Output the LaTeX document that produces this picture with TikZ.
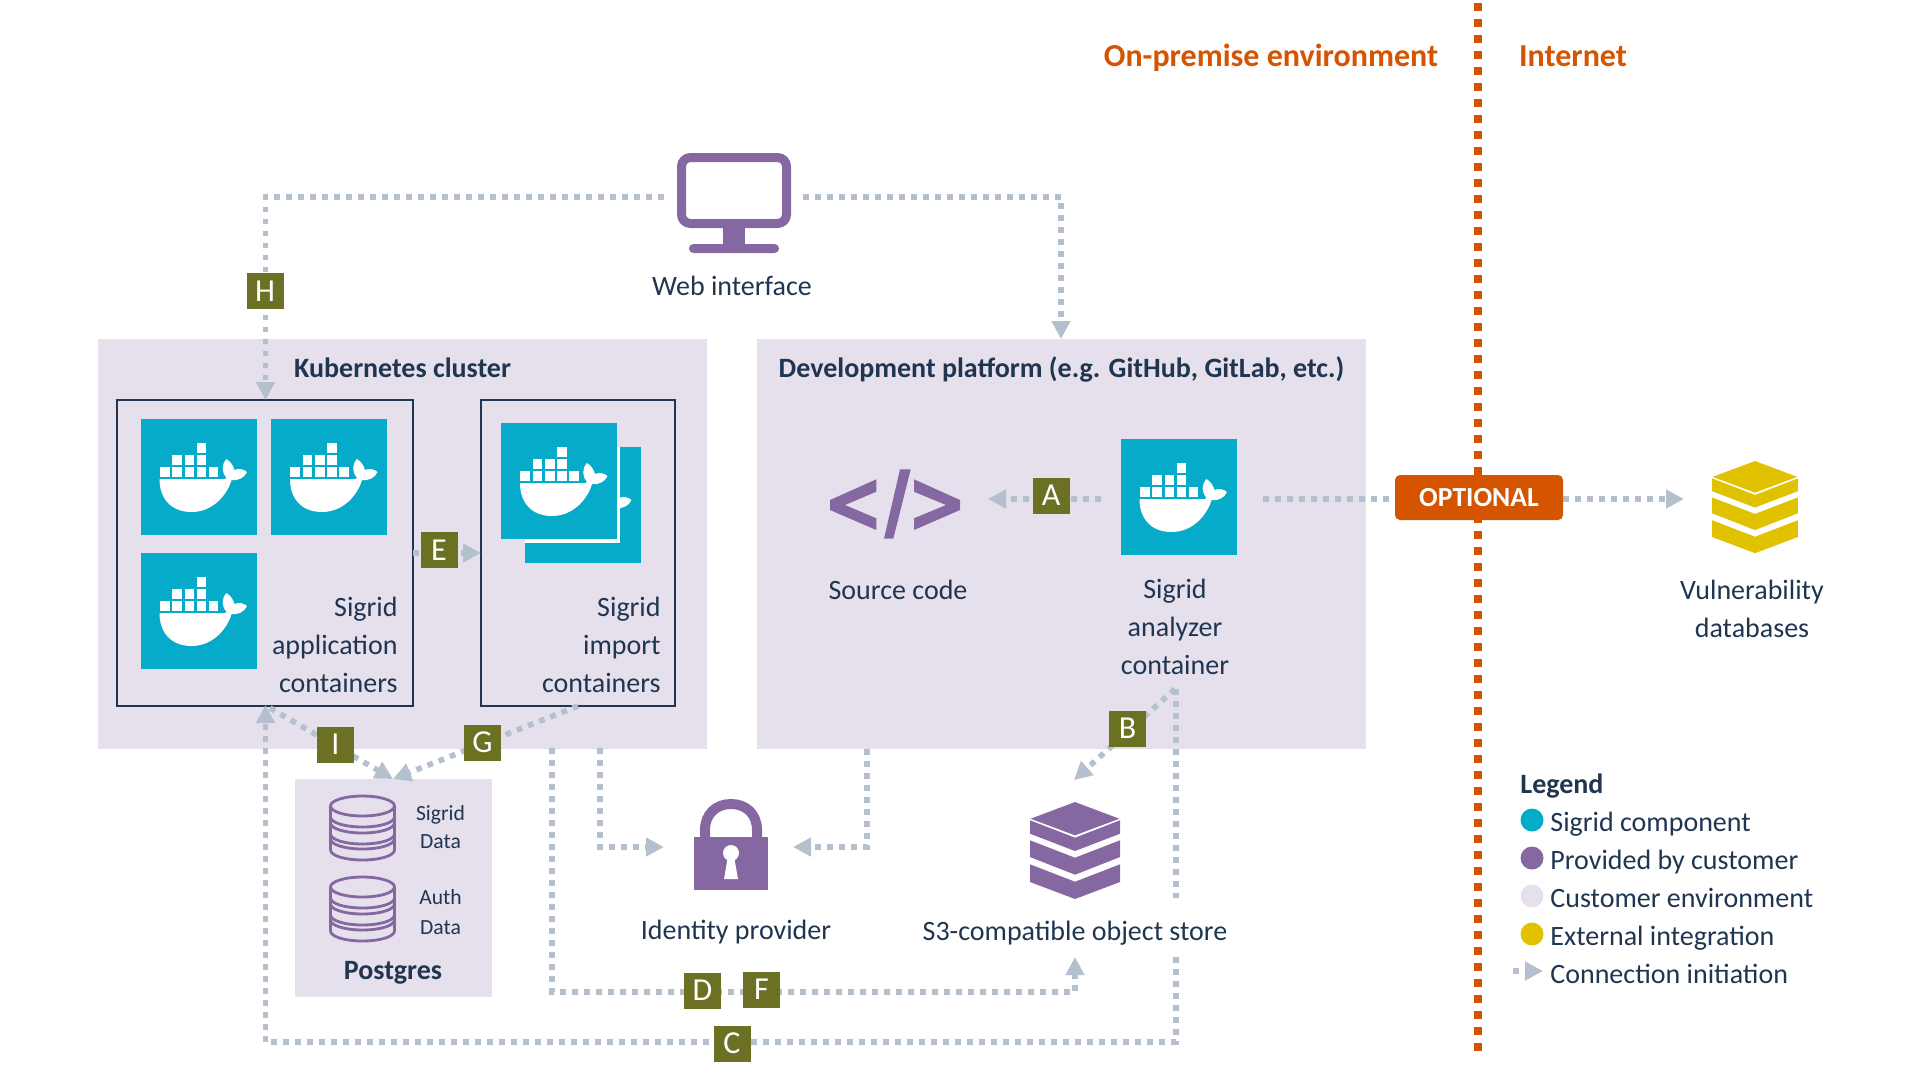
\documentclass[tikz,border=0pt]{standalone}
\usepackage{fontspec}
\setmainfont{Carlito}
\usetikzlibrary{arrows.meta}
\definecolor{teal}{HTML}{05ABC9}
\definecolor{purp}{HTML}{8568A2}
\definecolor{lav}{HTML}{E6E0ED}
\definecolor{olive}{HTML}{6B7023}
\definecolor{ink}{HTML}{1F3550}
\definecolor{yel}{HTML}{E0C200}
\definecolor{orng}{HTML}{D55400}
\definecolor{dots}{HTML}{B4C0CE}
\tikzset{
 txt/.style={text=ink,font=\fontsize{14}{16}\selectfont,inner sep=0pt,anchor=base},
 txtr/.style={txt,anchor=base east},
 bold/.style={txt,font=\fontsize{14}{16}\selectfont\bfseries},
 small/.style={txt,font=\fontsize{10.8}{14}\selectfont},
 badge/.style={fill=olive,text=white,minimum width=18.5pt,minimum height=18pt,inner sep=0pt,font=\fontsize{16}{16}\selectfont},
 conn/.style={draw=dots,line width=2.8pt,dash pattern=on 2.9pt off 3.1pt},
 connarrow/.style={conn,-{Triangle[length=9pt,width=9pt,fill=dots]}},
 env/.style={fill=lav,draw=none},
 frame/.style={draw=ink,line width=1pt,fill=none,outer sep=0pt,inner sep=0pt,anchor=north west},
 head/.style={text=orng,font=\fontsize{16}{18}\selectfont\bfseries,inner sep=0pt,anchor=base},
 pics/dockertile/.style={code={
   \fill[teal] (0,0) rectangle (116,116);
   \fill[white] (19,60) -- (84,60) -- (86,59) .. controls (81,54) and (81,45) .. (85.7,40)
     .. controls (90,42) and (93,47) .. (94,51) .. controls (98,49) and (103,50) .. (106.5,53)
     .. controls (104,59) and (97,62) .. (91,61) .. controls (87,75) and (73,93) .. (51,93)
     .. controls (31,93) and (19,80) .. (19,60) -- cycle;
   \foreach \a in {56}{\fill[white] (\a,24) rectangle ++(9.7,10);}
   \foreach \a in {31.7,44,56}{\fill[white] (\a,36) rectangle ++(9.7,10);}
   \foreach \a in {19.3,31.7,44,56,68}{\fill[white] (\a,48) rectangle ++(9.7,10);}
 }},
 pics/stackicon/.style args={#1}{code={
   \fill[#1] (0,0) -- (44.3,16.7) -- (0,33.3) -- (-44.3,16.7) -- cycle;
   \fill[#1] (-45,18.3) -- (0,35.7) -- (45,18.3) -- (45,31.7) -- (0,49) -- (-45,31.7) -- cycle;
   \fill[#1] (-45,38.3) -- (0,55.7) -- (45,38.3) -- (45,55) -- (0,72.7) -- (-45,55) -- cycle;
   \fill[#1] (-45,62.3) -- (0,79.7) -- (45,62.3) -- (45,80) -- (0,97) -- (-45,80) -- cycle;
 }},
 pics/dbicon/.style={code={
   \begin{scope}[draw=purp,line width=1.4pt]
   \draw (-32,11) -- (-32,55) arc[start angle=180,end angle=0,x radius=32,y radius=10] -- (32,11);
   \draw (0,11) ellipse[x radius=32,y radius=10];
   \draw (-32,22) arc[start angle=180,end angle=0,x radius=32,y radius=10];
   \draw (-32,28) arc[start angle=180,end angle=0,x radius=32,y radius=10];
   \draw (-32,39) arc[start angle=180,end angle=0,x radius=32,y radius=10];
   \draw (-32,44) arc[start angle=180,end angle=0,x radius=32,y radius=10];
   \end{scope}
 }},
}
\begin{document}
\begin{tikzpicture}[x=0.5pt,y=-0.5pt]
\useasboundingbox (0,0) rectangle (1928,1084);
% environments
\fill[env] (98,339) rectangle (707,749);
\fill[env] (757,339) rectangle (1366,749);
\fill[env] (295,779) rectangle (492,997);
% boundary
\draw[orng,line width=4pt,dash pattern=on 4pt off 4pt,dash phase=6.35pt] (1478,0) -- (1478,1051.3);
% frames
\node[frame,minimum width=148pt,minimum height=153pt] (app) at (117,400) {};
\node[frame,minimum width=97pt,minimum height=153pt] (imp) at (481,400) {};
% docker tiles
\pic at (140.5,419) {dockertile};
\pic at (271,419) {dockertile};
\pic at (140.5,553) {dockertile};
\pic at (525,447) {dockertile};
\fill[white] (525,447) rectangle (620,542.5);
\pic at (501,423) {dockertile};
\pic at (1120.5,439) {dockertile};
% coordinates
\coordinate (monL) at (664,197);
\coordinate (monR) at (803,197);
\coordinate (hC) at (265.5,197);
\coordinate (hT) at (265.5,400);
\coordinate (devC) at (1061,197);
\coordinate (devT) at (1061,339);
\coordinate (aS) at (1101,499);
\coordinate (aT) at (988,499);
\coordinate (oS) at (1263,499);
\coordinate (oE) at (1395,499);
\coordinate (vS) at (1563,499);
\coordinate (vT) at (1684,499);
\coordinate (bS) at (1175,689);
\coordinate (bT) at (1074,780);
\coordinate (cS) at (1176,689);
\coordinate (cM) at (1176,898);
\coordinate (cN) at (1176,957);
\coordinate (cC) at (1176,1042);
\coordinate (cL) at (265.5,1042);
\coordinate (cT) at (265.5,705);
\coordinate (iS) at (270,708);
\coordinate (pgT) at (393,779);
\coordinate (gS) at (578,706);
\coordinate (dS) at (552,748);
\coordinate (dC) at (552,992);
\coordinate (dR) at (1075,992);
\coordinate (dT) at (1075,957);
\coordinate (lS) at (600,748);
\coordinate (lC) at (600,847);
\coordinate (lT) at (664,847);
\coordinate (rS) at (867,749);
\coordinate (rC) at (867,847);
\coordinate (rT) at (793,847);
\coordinate (eS) at (413,553);
\coordinate (eT) at (481,553);
\coordinate (legS) at (1513,971);
\coordinate (legT) at (1543,971);
% connectors
\draw[connarrow] (monL) -- (hC) -- (hT);
\draw[connarrow] (monR) -- (devC) -- (devT);
\draw[connarrow] (aS) -- (aT);
\draw[conn] (oS) -- (oE);
\draw[connarrow] (vS) -- (vT);
\draw[connarrow] (bS) -- (bT);
\draw[conn] (cS) -- (cM);
\draw[connarrow] (cN) -- (cC) -- (cL) -- (cT);
\draw[connarrow] (iS) -- (pgT);
\draw[connarrow] (gS) -- (pgT);
\draw[connarrow] (dS) -- (dC) -- (dR) -- (dT);
\draw[connarrow] (lS) -- (lC) -- (lT);
\draw[connarrow] (rS) -- (rC) -- (rT);
\draw[connarrow] (eS) -- (eT);
% badges
\node[badge] (H) at (265,291) {H};
\node[badge] (A) at (1051,495.5) {A};
\node[badge] (B) at (1127.5,728.5) {B};
\node[badge] (C) at (732,1043.5) {C};
\node[badge] (D) at (702.5,990.5) {D};
\node[badge] (F) at (761.5,989.5) {F};
\node[badge] (E) at (439,550) {E};
\node[badge] (G) at (482.5,742.5) {G};
\node[badge] (I) at (335.5,744.5) {I};
% optional
\node[fill=orng,rounded corners=2.5pt,minimum width=84pt,minimum height=22.5pt,inner sep=0pt,text=white,font=\fontsize{13.8}{16}\selectfont\bfseries] (opt) at (1479,497.5) {\raisebox{-0.5pt}{OPTIONAL}};
% monitor
\draw[purp,line width=4.5pt,rounded corners=4.5pt] (681.5,157.5) rectangle (786.5,223.5);
\fill[purp] (723,228) rectangle (745,246);
\fill[purp,rounded corners=2.2pt] (689,244) rectangle (779,253);
% lock
\draw[purp,line width=5pt] (705,837) -- (705,830) .. controls (705,814) and (716,804) .. (731,804) .. controls (746,804) and (757,814) .. (757,830) -- (757,837);
\fill[purp] (694,837) rectangle (768,890);
\fill[white] (731,853) circle[radius=8];
\fill[white] (728,856) -- (734,856) -- (738,879) -- (724,879) -- cycle;
% stacks
\pic at (1075,802) {stackicon=purp};
\begin{scope}[shift={(1755,461)},xscale=.955,yscale=.95]
\pic[transform shape] {stackicon=yel};
\end{scope}
% databases
\pic at (362.5,795) {dbicon};
\pic at (362.5,876) {dbicon};
% code symbol
\fill[purp] (830,500) -- (876.3,479.3) -- (876.3,491.7) -- (845,505) -- (876.3,518.3) -- (876.3,530) -- (830,510) -- cycle;
\fill[purp] (900,469.3) -- (910.7,469.3) -- (893.3,538.7) -- (884,538.7) -- cycle;
\fill[purp] (914,479.3) -- (960,500) -- (960,510) -- (914,530) -- (914,518.3) -- (946,505) -- (914,491.7) -- cycle;
% text
\node[head] (onprem) at (1271,66.5) {On-premise environment};
\node[head] (inet) at (1573,66.5) {Internet};
\node[txt] (web) at (732,295.5) {Web interface};
\node[bold] (kube) at (402.5,377.5) {Kubernetes cluster};
\node[bold] (dev) at (1061.5,377.5) {Development platform (e.g. GitHub, GitLab, etc.)};
\node[txtr] (app1) at (398,616.5) {Sigrid};
\node[txtr] (app2) at (398,654.5) {application};
\node[txtr] (app3) at (398,692.5) {containers};
\node[txtr] (imp1) at (661,616.5) {Sigrid};
\node[txtr] (imp2) at (661,654.5) {import};
\node[txtr] (imp3) at (661,692.5) {containers};
\node[txt] (src) at (898,599.5) {Source code};
\node[txt] (an1) at (1175,598.5) {Sigrid};
\node[txt] (an2) at (1175,636.5) {analyzer};
\node[txt] (an3) at (1175,674) {container};
\node[txt] (vu1) at (1752,599.5) {Vulnerability};
\node[txt] (vu2) at (1752,637) {databases};
\node[txt] (idp) at (736,939.5) {Identity provider};
\node[txt] (s3) at (1075,940.5) {S3-compatible object store};
\node[small] (sd1) at (440.5,820) {Sigrid};
\node[small] (sd2) at (440.5,848) {Data};
\node[small] (ad1) at (440.5,904) {Auth};
\node[small] (ad2) at (440.5,934) {Data};
\node[bold] (pg) at (393,979) {Postgres};
% legend
\node[bold,anchor=base west] (leg) at (1520,793.5) {Legend};
\fill[teal] (1532,820) circle[radius=11.5];
\fill[purp] (1532,858) circle[radius=11.5];
\fill[lav] (1532,896) circle[radius=11.5];
\fill[yel] (1532,934) circle[radius=11.5];
\node[txt,anchor=base west] (l1) at (1550,831.5) {Sigrid component};
\node[txt,anchor=base west] (l2) at (1550,869.5) {Provided by customer};
\node[txt,anchor=base west] (l3) at (1550,907.5) {Customer environment};
\node[txt,anchor=base west] (l4) at (1550,945.5) {External integration};
\node[txt,anchor=base west] (l5) at (1550,983.5) {Connection initiation};
\draw[connarrow] (legS) -- (legT);
\end{tikzpicture}
\end{document}
